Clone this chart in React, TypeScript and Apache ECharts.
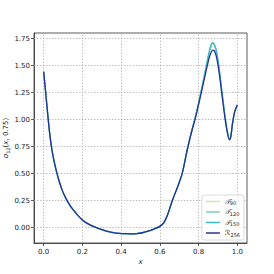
import React, { useEffect, useRef } from "react";
import * as echarts from "echarts";

const xs = [0, 0.006, 0.012, 0.022, 0.03, 0.038, 0.046, 0.055, 0.069, 0.08, 0.095, 0.108, 0.121, 0.138, 0.155, 0.175, 0.2, 0.225, 0.25, 0.275, 0.3, 0.33, 0.36, 0.39, 0.42, 0.45, 0.48, 0.51, 0.535, 0.56, 0.58, 0.6, 0.62, 0.64, 0.664, 0.69, 0.715, 0.74, 0.76, 0.784, 0.8, 0.815, 0.83, 0.841, 0.855, 0.865, 0.873, 0.882, 0.892, 0.905, 0.922, 0.939, 0.951, 0.96, 0.967, 0.974, 0.986, 1.0];

const r256 = [1.444, 1.33, 1.22, 1.03, 0.89, 0.775, 0.685, 0.605, 0.5, 0.43, 0.35, 0.295, 0.25, 0.2, 0.16, 0.116, 0.072, 0.04, 0.016, -0.002, -0.018, -0.034, -0.046, -0.053, -0.056, -0.057, -0.055, -0.047, -0.035, -0.02, -0.005, 0.012, 0.045, 0.12, 0.25, 0.37, 0.5, 0.71, 0.86, 1.02, 1.14, 1.26, 1.38, 1.47, 1.575, 1.625, 1.645, 1.635, 1.585, 1.45, 1.21, 0.98, 0.86, 0.815, 0.85, 0.95, 1.07, 1.136];

const t150 = [1.444, 1.33, 1.22, 1.03, 0.89, 0.775, 0.685, 0.605, 0.5, 0.43, 0.35, 0.295, 0.25, 0.2, 0.16, 0.116, 0.072, 0.04, 0.016, -0.002, -0.018, -0.034, -0.046, -0.053, -0.056, -0.057, -0.055, -0.047, -0.035, -0.02, -0.005, 0.012, 0.045, 0.12, 0.25, 0.37, 0.5, 0.71, 0.865, 1.03, 1.155, 1.28, 1.41, 1.51, 1.63, 1.695, 1.713, 1.695, 1.635, 1.49, 1.24, 1.0, 0.865, 0.815, 0.85, 0.95, 1.07, 1.136];

const t120 = [1.444, 1.33, 1.22, 1.03, 0.89, 0.775, 0.685, 0.605, 0.5, 0.43, 0.35, 0.295, 0.25, 0.2, 0.16, 0.116, 0.072, 0.04, 0.016, -0.002, -0.018, -0.034, -0.046, -0.053, -0.056, -0.057, -0.055, -0.047, -0.035, -0.02, -0.005, 0.012, 0.045, 0.12, 0.25, 0.37, 0.5, 0.71, 0.865, 1.03, 1.153, 1.278, 1.408, 1.507, 1.626, 1.69, 1.709, 1.692, 1.632, 1.488, 1.238, 0.998, 0.864, 0.815, 0.85, 0.95, 1.07, 1.136];

const t90 = [1.444, 1.33, 1.22, 1.03, 0.89, 0.775, 0.685, 0.605, 0.5, 0.43, 0.35, 0.295, 0.25, 0.2, 0.16, 0.116, 0.072, 0.04, 0.016, -0.002, -0.018, -0.034, -0.046, -0.053, -0.056, -0.057, -0.055, -0.047, -0.035, -0.02, -0.005, 0.012, 0.045, 0.12, 0.25, 0.37, 0.5, 0.71, 0.865, 1.03, 1.152, 1.276, 1.405, 1.503, 1.62, 1.685, 1.704, 1.688, 1.628, 1.485, 1.235, 0.996, 0.863, 0.815, 0.85, 0.95, 1.07, 1.136];

const xTicks = [0, 0.2, 0.4, 0.6, 0.8, 1.0];
const yTicks = [0, 0.25, 0.5, 0.75, 1.0, 1.25, 1.5, 1.75];

const seriesNames = ["T90", "T120", "T150", "R256"];
const seriesColors = ["#c7e9b4", "#7fcdbb", "#41b6c4", "#253494"];
const seriesValues = [t90, t120, t150, r256];

const FONT = "DejaVu Sans";

export default function App() {
  const ref = useRef<HTMLDivElement>(null);
  useEffect(() => {
    if (!ref.current) return;
    const chart = echarts.init(ref.current, null, { renderer: "svg" });
    const gridLines = [
      ...xTicks.map((v) => ({ xAxis: v })),
      ...yTicks.map((v) => ({ yAxis: v })),
    ];
    const series: any[] = seriesNames.map((n, i) => ({
      name: n,
      type: "line",
      data: xs.map((x, j) => [x, seriesValues[i][j]]),
      showSymbol: false,
      symbol: "none",
      smooth: 0.3,
      lineStyle: { color: seriesColors[i], width: 1.3 },
      itemStyle: { color: seriesColors[i] },
      z: 3 + i,
    }));
    series[0].markLine = {
      silent: true,
      symbol: ["none", "none"],
      label: { show: false },
      lineStyle: { color: "#b0b0b0", width: 0.8, type: [1.5, 1.5] },
      data: gridLines,
      z: 1,
    };
    const option: any = {
      animation: false,
      backgroundColor: "#ffffff",
      grid: { left: 34, right: 27, top: 33, bottom: 31, outerBoundsMode: "none", containLabel: false, show: true, borderColor: "#333", borderWidth: 0.8, backgroundColor: "transparent" },
      xAxis: {
        type: "value",
        min: -0.05,
        max: 1.05,
        name: "x",
        nameLocation: "middle",
        nameGap: 15,
        nameMoveOverlap: false,
        nameTextStyle: { fontFamily: FONT, fontSize: 7, fontStyle: "italic", color: "#222" },
        axisLine: { show: true, onZero: false, lineStyle: { color: "#333", width: 0.8 } },
        axisTick: { show: true, length: 3, lineStyle: { color: "#333", width: 0.8 }, customValues: xTicks },
        axisLabel: { customValues: xTicks, fontFamily: FONT, fontSize: 7, color: "#222", margin: 5, formatter: (v: number) => v.toFixed(1) },
        splitLine: { show: false },
      },
      yAxis: {
        type: "value",
        min: -0.142,
        max: 1.803,
        name: "{s|σ}{sub|12}{n|(}{i|x}{n|, 0.75)}",
        nameLocation: "middle",
        nameRotate: 90,
        nameGap: 24,
        nameMoveOverlap: false,
        nameTextStyle: {
          fontFamily: FONT, fontSize: 7, color: "#222",
          rich: {
            s: { fontFamily: FONT, fontSize: 7, fontStyle: "italic", color: "#222" },
            sub: { fontFamily: FONT, fontSize: 5, color: "#222", verticalAlign: "bottom", padding: [3, 0, 0, 0] },
            n: { fontFamily: FONT, fontSize: 7, color: "#222" },
            i: { fontFamily: FONT, fontSize: 7, fontStyle: "italic", color: "#222" },
          },
        },
        axisLine: { show: true, onZero: false, lineStyle: { color: "#333", width: 0.8 } },
        axisTick: { show: true, length: 3, lineStyle: { color: "#333", width: 0.8 }, customValues: yTicks },
        axisLabel: { customValues: yTicks, fontFamily: FONT, fontSize: 7, color: "#222", margin: 4, formatter: (v: number) => v.toFixed(2) },
        splitLine: { show: false },
      },
      legend: {
        orient: "vertical",
        right: 30,
        bottom: 34,
        backgroundColor: "rgba(255,255,255,0.85)",
        borderColor: "#d0d0d0",
        borderWidth: 0.8,
        borderRadius: 2,
        padding: [3, 4, 3, 4],
        itemGap: 3,
        itemWidth: 14,
        itemHeight: 1.5,
        icon: "rect",
        data: seriesNames,
        formatter: (name: string) => {
          const letter = name[0] === "T" ? "𝒯" : "ℛ";
          return `{l|${letter}}{sub|${name.slice(1)}}`;
        },
        textStyle: {
          fontFamily: FONT, fontSize: 7, color: "#222",
          rich: {
            l: { fontFamily: FONT, fontSize: 7, fontStyle: "italic", color: "#222" },
            sub: { fontFamily: FONT, fontSize: 5, color: "#222", verticalAlign: "bottom", padding: [3, 0, 0, 0] },
          },
        },
      },
      series,
    };
    chart.setOption(option);
    return () => chart.dispose();
  }, []);
  return <div ref={ref} style={{ width: 274, height: 274, position: "absolute", left: 0, top: 0 }} />;
}
